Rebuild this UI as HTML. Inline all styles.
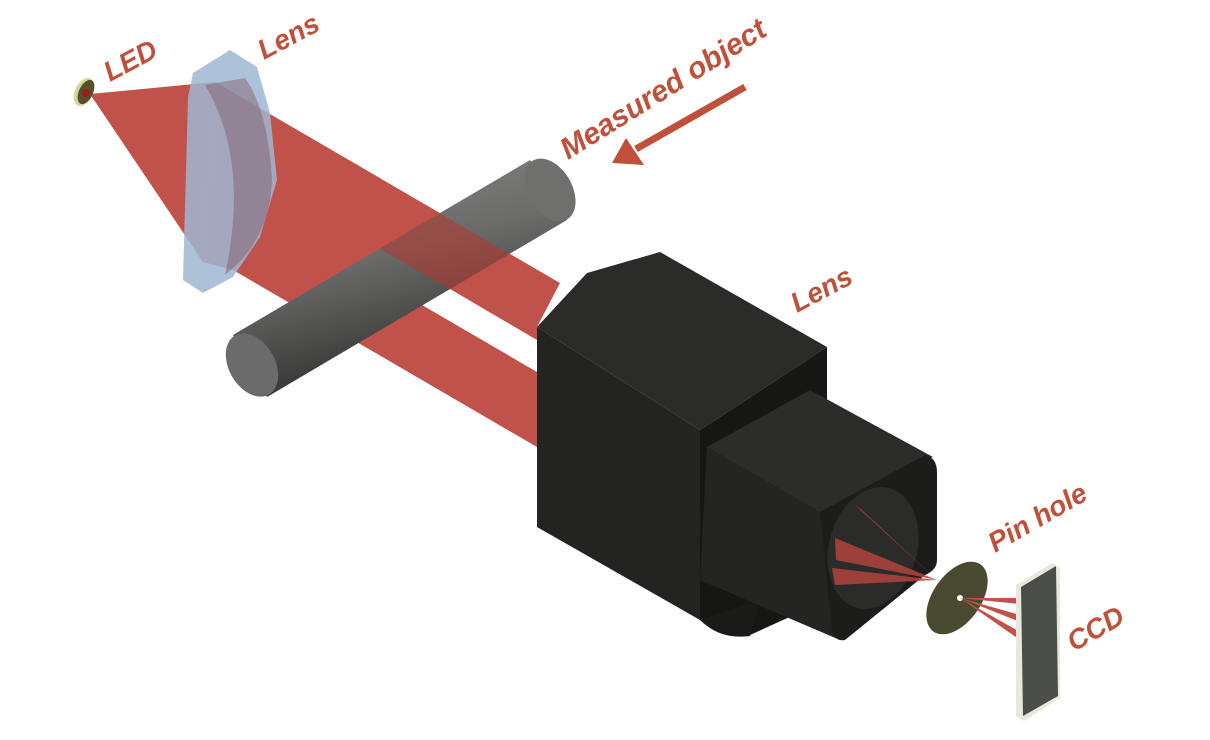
<!DOCTYPE html>
<html><head><meta charset="utf-8"><style>
html,body{margin:0;padding:0;background:#fff;}
svg{display:block}
text{font-family:"Liberation Sans",sans-serif;font-weight:bold;font-style:italic;fill:#c0503a;}
</style></head><body>
<svg width="1210" height="740" viewBox="0 0 1210 740" xmlns="http://www.w3.org/2000/svg">
<defs>
<linearGradient id="rod" x1="0" y1="0" x2="0.35" y2="1">
<stop offset="0" stop-color="#8a8a88"/><stop offset="0.5" stop-color="#6a6a68"/><stop offset="1" stop-color="#2e2e2e"/>
</linearGradient>
<clipPath id="rodclip">
<polygon points="233,335 530,160 567,220 267,397"/>
<ellipse cx="550" cy="190" rx="22" ry="34" transform="rotate(-30 550 190)"/>
</clipPath>
</defs>
<!-- LED to lens cone -->
<polygon points="90,94 215,82 203,262" fill="#c0524a"/>
<polygon points="215,82 560,283 537,327 537,447 233,270 203,262" fill="#c0524a"/>
<!-- shadow gap -->
<polygon points="450,289 537,340 537,372 422,305" fill="#fff"/>
<!-- rod -->
<polygon points="233,335 530,160 567,220 267,397" fill="url(#rod)"/>
<ellipse cx="550" cy="190" rx="22" ry="34" transform="rotate(-30 550 190)" fill="#6f6f6d"/>
<ellipse cx="252" cy="365" rx="23" ry="34" transform="rotate(-30 252 365)" fill="#6b6b6b"/>
<!-- beam over rod (upper band) -->
<polygon points="300,132 580,295 580,365 300,202" fill="#b8352c" opacity="0.55" clip-path="url(#rodclip)"/>
<!-- lens -->
<polygon points="193,73 230,50 257,67 270,113 277,180 260,237 233,277 203,293 183,280 188,97" fill="#9fb6d2" opacity="0.85"/>
<path d="M205,85 Q250,160 225,275 Q270,240 272,180 Q268,110 245,78 Z" fill="#7d5a66" opacity="0.45"/>
<!-- LED -->
<ellipse cx="84" cy="92" rx="9" ry="15" transform="rotate(25 84 92)" fill="#d8d49a"/>
<ellipse cx="86" cy="92" rx="7" ry="13" transform="rotate(25 86 92)" fill="#55502a"/>
<circle cx="86" cy="93" r="4" fill="#9a1c1c"/>
<!-- camera -->
<polygon points="537,327 587,273 660,252 827,347 700,430" fill="#2b2b2a"/>
<polygon points="700,430 827,347 827,600 750,635 700,620" fill="#161614"/>
<polygon points="537,327 700,430 700,620 537,527" fill="#232322"/>
<path d="M700,620 Q720,640 750,636 L760,600 Z" fill="#1a1a19"/>
<!-- nose -->
<polygon points="707,447 810,390 933,457 820,512" fill="#2c2c2b"/>
<polygon points="707,447 820,512 840,640 700,580" fill="#242423"/>
<path d="M820,512 L925,455 Q937,458 937,472 L937,560 Q937,570 925,575 L845,640 Q835,642 832,630 Z" fill="#1c1c1b"/>
<ellipse cx="873" cy="548" rx="44" ry="62" transform="rotate(15 873 548)" fill="#2b2b2a"/>
<polygon points="855,505 937,580 862,510" fill="#b3443d" opacity="0.85"/>
<polygon points="835,538 937,580 836,560" fill="#b3443d" opacity="0.85"/>
<polygon points="832,568 937,580 835,585" fill="#b3443d" opacity="0.85"/>
<!-- pinhole -->
<ellipse cx="957" cy="598" rx="24" ry="41" transform="rotate(35 957 598)" fill="#4a4a33"/>
<circle cx="960" cy="598" r="3" fill="#fff"/>
<polygon points="960,598 1020,598 1020,604" fill="#c0524a"/>
<polygon points="960,598 1020,615 1020,622" fill="#c0524a"/>
<polygon points="960,598 1020,632 1020,640" fill="#c0524a"/>
<!-- CCD -->
<polygon points="1016,585 1052,563 1060,568 1060,698 1024,721 1016,716" fill="#e8e8dc"/>
<polygon points="1021,587 1056,566 1058,696 1023,716" fill="#4b4d49"/>
<!-- labels -->
<text x="110" y="82" font-size="28" transform="rotate(-28 110 82)">LED</text>
<text x="264" y="60" font-size="28" transform="rotate(-28 264 60)">Lens</text>
<text x="568" y="160" font-size="30" transform="rotate(-32 568 160)">Measured object</text>
<text x="797" y="313" font-size="28" transform="rotate(-28 797 313)">Lens</text>
<text x="995" y="553" font-size="28" transform="rotate(-30 995 553)">Pin  hole</text>
<text x="1074" y="652" font-size="28" transform="rotate(-30 1074 652)">CCD</text>
<!-- arrow -->
<line x1="745" y1="87" x2="636" y2="149" stroke="#c0503a" stroke-width="7"/>
<polygon points="612,163 626,138 644,165" fill="#c0503a"/>
</svg>
</body></html>
